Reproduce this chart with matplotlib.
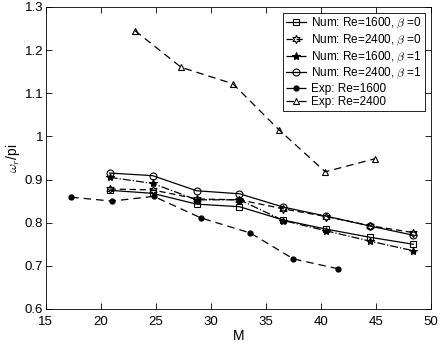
import numpy as np
import matplotlib.pyplot as plt
from matplotlib.ticker import FormatStrFormatter

plt.rcParams["font.family"] = ["Liberation Sans", "DejaVu Sans"]
plt.rcParams["mathtext.fontset"] = "cm"

# numerical results (same M for all four runs)
M_NUM = [20.8, 24.7, 28.7, 32.6, 36.6, 40.5, 44.5, 48.4]
NUM_1600_B0 = [0.875, 0.868, 0.843, 0.837, 0.806, 0.785, 0.766, 0.750]
NUM_2400_B0 = [0.878, 0.876, 0.855, 0.853, 0.832, 0.814, 0.793, 0.777]
NUM_1600_B1 = [0.905, 0.891, 0.853, 0.853, 0.805, 0.781, 0.757, 0.735]
NUM_2400_B1 = [0.915, 0.909, 0.874, 0.867, 0.836, 0.815, 0.792, 0.771]

# experiments
M_EXP_1600 = [17.3, 21.0, 24.8, 29.1, 33.6, 37.5, 41.6]
EXP_1600 = [0.859, 0.850, 0.861, 0.811, 0.776, 0.716, 0.693]
M_EXP_2400 = [23.1, 27.3, 32.0, 36.2, 40.4, 44.9]
EXP_2400 = [1.245, 1.160, 1.122, 1.015, 0.918, 0.948]

fig = plt.figure(figsize=(4.41, 3.46), dpi=100)
ax = fig.add_axes([0.104, 0.107, 0.873, 0.873])

lw = 0.9
ax.plot(M_NUM, NUM_1600_B0, "-", color="k", lw=lw, marker="s", ms=4,
        mfc="none", mew=0.8, label=r"Num: Re=1600, $\beta$ =0")
ax.plot(M_NUM, NUM_2400_B0, color="k", lw=lw, marker=(6, 1, 0), ms=6,
        mfc="none", mew=0.8, dashes=(5, 3), label=r"Num: Re=2400, $\beta$ =0")
ax.plot(M_NUM, NUM_1600_B1, "-.", color="k", lw=lw, marker="*", ms=6,
        mfc="k", mew=0.8, label=r"Num: Re=1600, $\beta$ =1")
ax.plot(M_NUM, NUM_2400_B1, "-", color="k", lw=lw, marker="o", ms=5,
        mfc="none", mew=0.8, label=r"Num: Re=2400, $\beta$ =1")
ax.plot(M_EXP_1600, EXP_1600, color="k", lw=lw, marker="o", ms=3.5,
        mfc="k", dashes=(6, 4), label="Exp: Re=1600")
ax.plot(M_EXP_2400, EXP_2400, color="k", lw=lw, marker="^", ms=5,
        mfc="none", mew=0.8, dashes=(6, 4), label="Exp: Re=2400")

ax.set_xlim(15, 50)
ax.set_ylim(0.6, 1.3)
ax.set_xticks(np.arange(15, 51, 5))
ax.set_yticks(np.arange(0.6, 1.31, 0.1))
ax.yaxis.set_major_formatter(FormatStrFormatter("%g"))
ax.tick_params(direction="in", top=True, right=True, labelsize=9.5,
               length=4, width=0.6, pad=2)
ax.tick_params(axis="x", pad=5)
for s in ax.spines.values():
    s.set_linewidth(0.6)

ax.set_xlabel("M", fontsize=10, labelpad=1)
ax.set_ylabel(r"$\omega_r$/pi", fontsize=10, labelpad=2)

leg = ax.legend(loc="upper right", fontsize=8.5, fancybox=False, framealpha=1,
                edgecolor="k", handlelength=1.7, handletextpad=0.4,
                labelspacing=0.12, borderpad=0.25, borderaxespad=0.5)
leg.get_frame().set_linewidth(0.6)

fig.savefig("out.png", dpi=100)
